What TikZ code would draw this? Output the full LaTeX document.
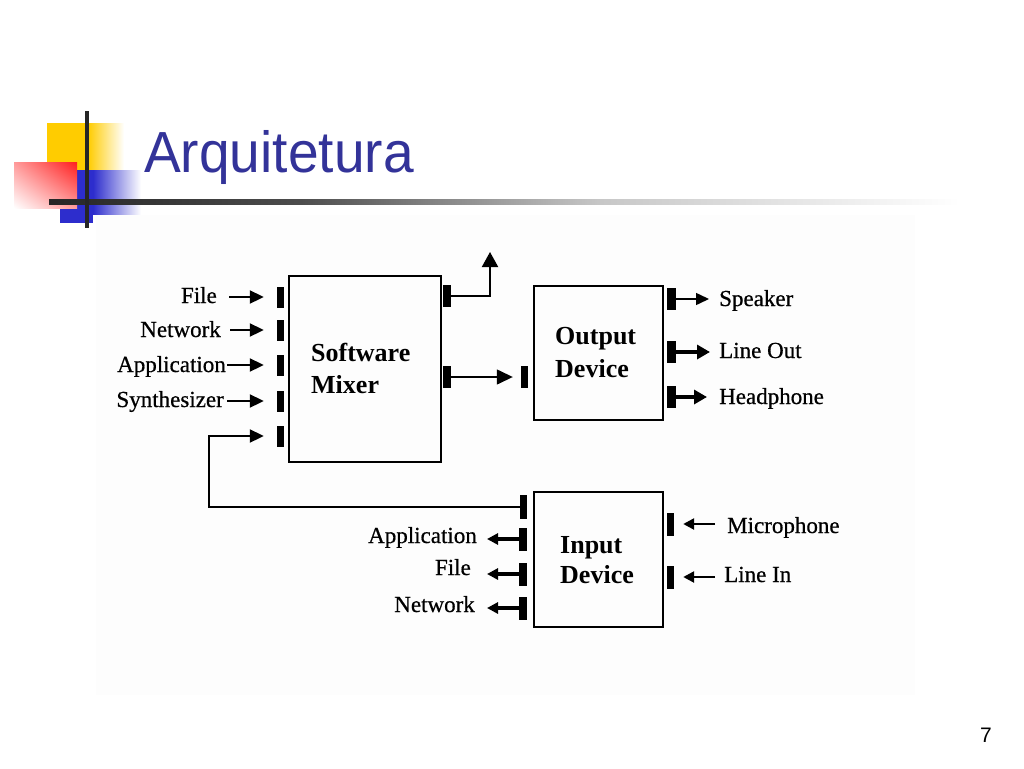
\documentclass[tikz,border=0pt]{standalone}
\usepackage{fontspec}
\setmainfont{Liberation Serif}
\newfontfamily\sansf{Liberation Sans}
\newfontfamily\lblf[FakeBold=0.6]{Liberation Serif}
\usetikzlibrary{arrows.meta,shadings}
\definecolor{titleblue}{RGB}{51,51,153}
\definecolor{logoyellow}{RGB}{255,204,0}
\definecolor{logored}{RGB}{255,30,30}
\definecolor{logoblue}{RGB}{45,45,205}
\begin{document}
\begin{tikzpicture}[x=1pt,y=-1pt,
  bar/.style={rectangle, fill=black, draw=none, inner sep=0pt, minimum width=7pt, minimum height=22pt},
  box/.style={draw, line width=1.5pt, inner sep=0pt, anchor=north west},
  lbl/.style={font=\lblf\fontsize{23}{27}\selectfont, inner sep=0pt},
  btxt/.style={font=\fontsize{26}{30}\selectfont\bfseries, inner sep=0pt, anchor=base west},
  arr/.style={line width=2pt, -{Triangle[length=14pt,width=13pt]}},
  arrthin/.style={line width=1.5pt, -{Triangle[length=13pt,width=12pt]}},
  arrfat/.style={line width=4.5pt, -{Triangle[length=13pt,width=14pt]}},
  arrin/.style={line width=4pt, -{Triangle[length=11pt,width=11pt]}},
  arrmic/.style={line width=2.5pt, -{Triangle[length=11pt,width=11pt]}}
]
\fill[white] (0,0) rectangle (1024,768);
\useasboundingbox (0,0) rectangle (1024,768);
% faint picture background
\fill[black!0.8] (96,215) rectangle (915,695);
% logo
\fill[logoyellow] (47,123) rectangle (88,170);
\shade[left color=logoyellow, right color=white] (88,123) rectangle (124,170);
\fill[logoblue] (60,170) rectangle (93,223);
\shade[left color=logoblue, right color=white] (93,170) rectangle (141,214);
\shade[upper left=logored!45!white, upper right=logored, lower left=white, lower right=logored!45!white] (14,162) rectangle (77,208);
\shade[left color=black!85, right color=black!70] (49,199) rectangle (300,204);
\shade[left color=black!70, right color=black!22] (300,199) rectangle (600,204);
\shade[left color=black!22, right color=white] (600,199) rectangle (960,204);
\fill[black!85] (85,111) rectangle (89,228);
% title
\node[anchor=base west, inner sep=0pt, text=titleblue, font=\sansf\fontsize{58}{60}\selectfont] (title) at (144,172) {\scalebox{0.95}[1]{Arquitetura}};
\node[anchor=base, inner sep=0pt, font=\sansf\fontsize{21}{24}\selectfont] (pg) at (986,742) {7};

% boxes
\node[box, line width=2pt, minimum width=152pt, minimum height=186pt] (mixer) at (288,275) {};
\node[box, minimum width=129pt, minimum height=134pt] (out) at (533,285) {};
\node[box, minimum width=129pt, minimum height=135pt] (in) at (533,491) {};
\node[btxt] (tSoft) at (311,361) {Software};
\node[btxt] (tMix) at (311,393) {Mixer};
\node[btxt] (tOut) at (555,344) {Output};
\node[btxt] (tOdev) at (555,377) {Device};
\node[btxt] (tIn) at (560,553) {Input};
\node[btxt] (tIdev) at (560,583) {Device};

% mixer left ports
\node[bar, minimum height=21pt] (pL1) at (280.5,297) {};
\node[bar, minimum height=21pt] (pL2) at (280.5,330) {};
\node[bar, minimum height=21pt] (pL3) at (280.5,365) {};
\node[bar, minimum height=21pt] (pL4) at (280.5,401) {};
\node[bar, minimum height=21pt] (pL5) at (280.5,436) {};
\node[lbl, anchor=base east] (lFile) at (217,303) {File};
\node[lbl, anchor=base east] (lNet) at (221,337) {Network};
\node[lbl, anchor=base east] (lApp) at (226,372) {Application};
\node[lbl, anchor=base east] (lSyn) at (224,407) {Synthesizer};
\draw[arr, shorten <=12pt, shorten >=13pt] (lFile.east |- pL1.west) -- (pL1.west);
\draw[arr, shorten <=9pt, shorten >=13pt] (lNet.east |- pL2.west) -- (pL2.west);
\draw[arr, shorten <=1pt, shorten >=13pt] (lApp.east |- pL3.west) -- (pL3.west);
\draw[arr, shorten <=3pt, shorten >=13pt] (lSyn.east |- pL4.west) -- (pL4.west);

% mixer right ports
\node[bar, minimum width=8pt] (pR1) at (447,296) {};
\node[bar, minimum width=8pt] (pR2) at (447,377) {};
\coordinate (upTip) at (490,252);
\draw[line width=2pt, -{Triangle[length=15pt,width=16pt]}] (pR1.east) -| (upTip);
\node[bar] (pOin) at (524.5,377) {};
\draw[line width=1.4pt, -{Triangle[length=16pt,width=15pt]}, shorten >=8pt] (pR2.east) -- (pOin.west);

% output right ports
\node[bar, minimum width=9pt] (pO1) at (671.5,299) {};
\node[bar, minimum width=9pt] (pO2) at (671.5,352) {};
\node[bar, minimum width=9pt] (pO3) at (671.5,397) {};
\node[lbl, anchor=base west] (lSpk) at (719,306) {Speaker};
\node[lbl, anchor=base west] (lLout) at (719,358) {Line Out};
\node[lbl, anchor=base west] (lHead) at (719,404) {Headphone};
\draw[arrthin, shorten >=10pt] (pO1.east) -- (lSpk.west |- pO1.east);
\draw[arrfat, shorten >=9pt] (pO2.east) -- (lLout.west |- pO2.east);
\draw[arrfat, shorten >=12pt] (pO3.east) -- (lHead.west |- pO3.east);

% input left ports
\node[bar, minimum width=7pt, minimum height=24pt] (pIfb) at (523.5,507) {};
\node[bar, minimum width=8pt, minimum height=23pt] (pI1) at (523,539) {};
\node[bar, minimum width=8pt, minimum height=23pt] (pI2) at (523,574) {};
\node[bar, minimum width=8pt, minimum height=23pt] (pI3) at (523,608) {};
\node[lbl, anchor=base east] (lIApp) at (477,543) {Application};
\node[lbl, anchor=base east] (lIFile) at (471,575) {File};
\node[lbl, anchor=base east] (lINet) at (475,612) {Network};
\draw[arrin, shorten >=10pt] (pI1.west) -- (lIApp.east |- pI1.west);
\draw[arrin, shorten >=16pt] (pI2.west) -- (lIFile.east |- pI2.west);
\draw[arrin, shorten >=12pt] (pI3.west) -- (lINet.east |- pI3.west);

% feedback
\coordinate (fbc) at (209,436);
\draw[arr, shorten >=13pt] (pIfb.west) -| (fbc) -- (pL5.west);

% input right ports
\node[bar, minimum height=23pt] (pM1) at (670.5,524) {};
\node[bar, minimum height=23pt] (pM2) at (670.5,577) {};
\node[lbl, anchor=base west] (lMic) at (727,533) {Microphone};
\node[lbl, anchor=base west] (lLin) at (724,582) {Line In};
\draw[arrmic, shorten <=12pt, shorten >=9pt] (lMic.west |- pM1.east) -- (pM1.east);
\draw[arrmic, shorten <=9pt, shorten >=9pt] (lLin.west |- pM2.east) -- (pM2.east);
\end{tikzpicture}
\end{document}
